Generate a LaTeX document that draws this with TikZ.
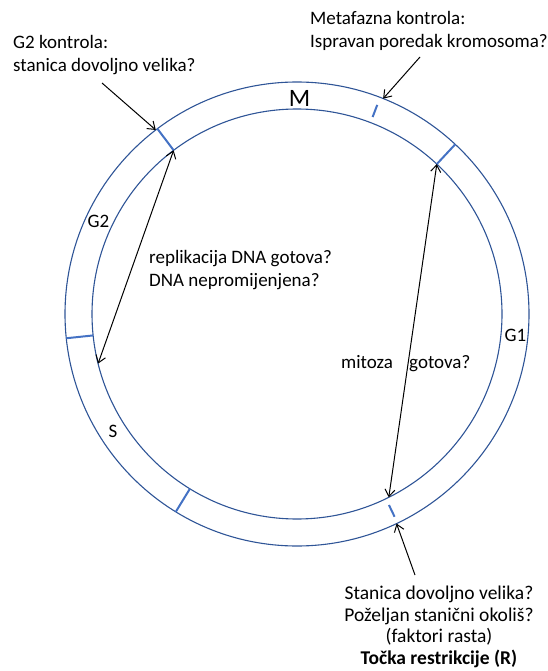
\documentclass[tikz,border=0pt]{standalone}
\usepackage{fontspec}
\setmainfont{Carlito}
\usetikzlibrary{arrows.meta}
\definecolor{ringblue}{RGB}{47,85,151}
\definecolor{tickblue}{RGB}{68,114,196}
\begin{document}
\begin{tikzpicture}[x=1pt,y=1pt,
  ring/.style={draw=ringblue, line width=1.1pt},
  tickmark/.style={draw=tickblue, line width=2pt},
  arr/.style={-{Straight Barb[length=7pt,width=10pt]}, line width=1pt, black},
  darr/.style={{Straight Barb[length=7pt,width=10pt]}-{Straight Barb[length=7pt,width=10pt]}, line width=1pt, black},
  lbl/.style={font=\fontsize{19}{22.7}\selectfont, inner sep=0pt},
  phase/.style={font=\fontsize{19}{22.7}\selectfont, inner sep=0pt},
]
\useasboundingbox (0,0) rectangle (548,-671);
\coordinate (C) at (297,-314);
\begin{scope}[shift={(C)}]
  \draw[ring] (0,0) circle (232);
  \draw[ring] (0,0) circle (205);
  \draw[tickmark] (127:205) -- (127:232);
  \draw[tickmark] (47:205) -- (47:232);
  \draw[tickmark] (186:205) -- (186:232);
  \draw[tickmark] (238.5:205) -- (238.5:232);
  \draw[tickmark] (69:211) -- (69:224);
  \draw[tickmark] (-64.3:212) -- (-64.3:225);
  \coordinate (g2out) at (127.5:232);
  \coordinate (g2in) at (127:205);
  \coordinate (srep) at (194:205);
  \coordinate (metout) at (68.2:232);
  \coordinate (g1in) at (47:205);
  \coordinate (g1low) at (-63.4:205);
  \coordinate (rout) at (-64.6:232);
\end{scope}
\coordinate (g2s) at (102,-83);
\coordinate (mets) at (420,-57);
\coordinate (rs) at (415,-575);

% labels
\node[lbl, anchor=north west, align=left] (g2t) at (13,-35) {G2 kontrola:\\stanica dovoljno velika?};
\node[lbl, anchor=north west, align=left] (mett) at (310,-11) {Metafazna kontrola:\\Ispravan poredak kromosoma?};
\node[lbl, anchor=north west, align=left] (rept) at (149,-250) {replikacija DNA gotova?\\DNA nepromijenjena?};
\node[lbl, anchor=base west] (mit) at (341,-368) {mitoza};
\node[lbl, anchor=base west] (got) at (409,-368) {gotova?};
\node[lbl, font=\fontsize{19.5}{21.5}\selectfont, anchor=north, align=center] (rt) at (439,-586) {Stanica dovoljno velika?\\Poželjan stanični okoliš?\\(faktori rasta)\\\textbf{Točka restrikcije (R)}};

\node[phase, font=\fontsize{25}{30}\selectfont] (M) at (299.5,-98) {M};
\node[phase] (G2) at (98.5,-221.5) {G2};
\node[phase] (G1) at (515.5,-335) {G1};
\node[phase] (S) at (113,-431) {S};

% arrows
\draw[arr] (g2s) -- (g2out);
\draw[arr] (mets) -- (metout);
\draw[arr] (rs) -- (rout);
\draw[darr] (g2in) -- (srep);
\draw[darr] (g1in) -- (g1low);
\end{tikzpicture}
\end{document}
